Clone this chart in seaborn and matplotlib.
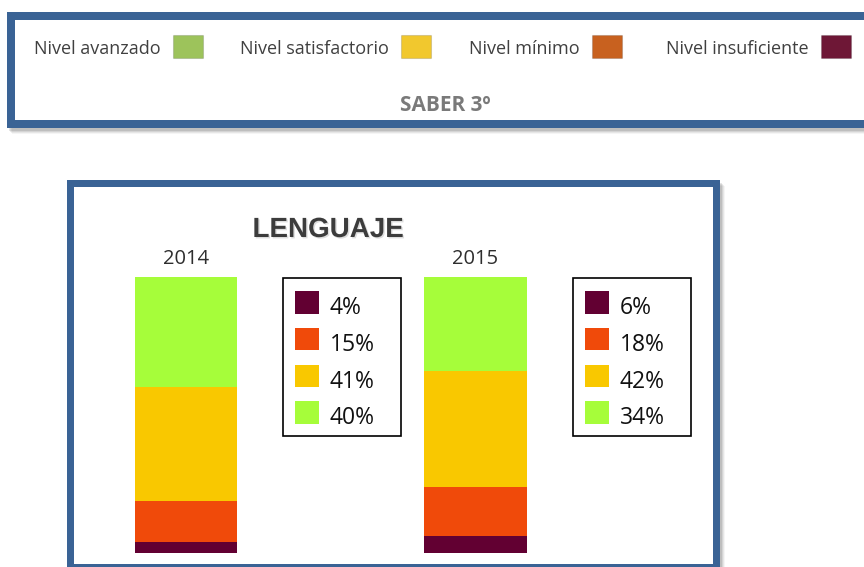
import matplotlib
matplotlib.use("Agg")
import matplotlib.pyplot as plt
import matplotlib.patches as mpatches
import matplotlib.patheffects as pe
import seaborn as sns
import pandas as pd

# ---------------- data ----------------
years = ["2014", "2015"]
levels = ["Nivel avanzado", "Nivel satisfactorio", "Nivel mínimo", "Nivel insuficiente"]
insuficiente = [4, 6]
minimo = [15, 18]
satisfactorio = [41, 42]
avanzado = [40, 34]
title = "LENGUAJE"
subtitle = "SABER 3º"

# ---------------- styles ----------------
bar_colors = {"avanzado": "#a6fd3a", "satisfactorio": "#f9c800",
              "minimo": "#f04a0a", "insuficiente": "#620032"}
top_colors = ["#9dc35b", "#f1c82e", "#c8611f", "#6e1736"]
border_blue = "#3a6395"

sns.set_theme(style="white")
plt.rcParams["font.family"] = ["Open Sans", "DejaVu Sans"]

W, H = 864, 567
fig = plt.figure(figsize=(W / 100, H / 100), dpi=100)
fig.patch.set_facecolor("white")

# background / decoration axes in pixel coordinates
bg = fig.add_axes([0, 0, 1, 1], zorder=0)
bg.set_xlim(0, W)
bg.set_ylim(H, 0)
bg.axis("off")

def framed_box(ax, x0, y0, x1, y1, t):
    # soft shadow
    for i, a in enumerate([0.10, 0.08, 0.06, 0.04]):
        ax.add_patch(mpatches.Rectangle((x0 + 2 + i, y0 + 3 + i), x1 - x0, y1 - y0,
                                        facecolor="black", alpha=a, edgecolor="none"))
    ax.add_patch(mpatches.Rectangle((x0, y0), x1 - x0, y1 - y0,
                                    facecolor=border_blue, edgecolor="none"))
    ax.add_patch(mpatches.Rectangle((x0 + t, y0 + t), x1 - x0 - 2 * t, y1 - y0 - 2 * t,
                                    facecolor="white", edgecolor="none"))

framed_box(bg, 7, 12, 880, 128, 8)
framed_box(bg, 67, 180, 720, 571, 7)

# top legend
patch_left = [173, 401, 592, 821]
for lab, col, px in zip(levels, top_colors, patch_left):
    bg.add_patch(mpatches.Rectangle((px, 35), 30, 23, facecolor=col,
                                    edgecolor="#00000022", linewidth=0.8))
    bg.text(px - 12, 54, lab, ha="right", va="baseline", fontsize=13,
            color="#404040")
bg.text(445, 111, subtitle, ha="center", va="baseline", fontsize=15,
        fontweight="bold", color="#7a7a7a")

# title
bg.text(328, 237, title, ha="center", va="baseline", fontsize=20,
        fontweight="bold", color="#3c3c3c", family="Liberation Sans",
        path_effects=[pe.withSimplePatchShadow(offset=(1, -1), shadow_rgbFace="#aaaaaa", alpha=0.4)])

# ---------------- bars ----------------
c0, step, bw = 186.0, 289.5, 102.5
L, R = 100.0, 700.0
top_px, bot_px = 277.0, 553.0
ax = fig.add_axes([L / W, 1 - bot_px / H, (R - L) / W, (bot_px - top_px) / H],
                  zorder=1)
ax.patch.set_alpha(0)

df = pd.DataFrame({"year": years,
                   "insuficiente": insuficiente, "minimo": minimo,
                   "satisfactorio": satisfactorio, "avanzado": avanzado})
stack_order = ["insuficiente", "minimo", "satisfactorio", "avanzado"]
df_cum = df[stack_order].cumsum(axis=1)
df_cum["year"] = years
for key in reversed(stack_order):
    sns.barplot(data=df_cum, x="year", y=key, color=bar_colors[key],
                saturation=1, width=bw / step, ax=ax, linewidth=0)

ax.set_xlim((L - c0) / step, (R - c0) / step)
ax.set_ylim(0, 100)
ax.set_xlabel("")
ax.set_ylabel("")
ax.set_yticks([])
ax.xaxis.tick_top()
ax.tick_params(axis="x", length=0, pad=6, labelsize=14.5, labelcolor="#2e2e2e")
for lbl in ax.get_xticklabels():
    lbl.set_fontweight("medium")
for s in ax.spines.values():
    s.set_visible(False)

# value boxes next to each bar
for i, yr in enumerate(years):
    bx = c0 + i * step + 97
    bg.add_patch(mpatches.Rectangle((bx, 278), 118, 158, facecolor="white",
                                    edgecolor="black", linewidth=1.2, zorder=2))
    vals = [df.loc[i, k] for k in stack_order]
    for j, (k, v) in enumerate(zip(stack_order, vals)):
        py = 291 + j * 36.8
        bg.add_patch(mpatches.Rectangle((bx + 12, py), 24, 22.5,
                                        facecolor=bar_colors[k], edgecolor="none",
                                        zorder=3))
        bg.text(bx + 47, py + 23, f"{v}%", ha="left", va="baseline",
                fontsize=16.5, fontweight="medium", color="#111111", zorder=3)

fig.savefig("out.png", dpi=100, facecolor="white")
